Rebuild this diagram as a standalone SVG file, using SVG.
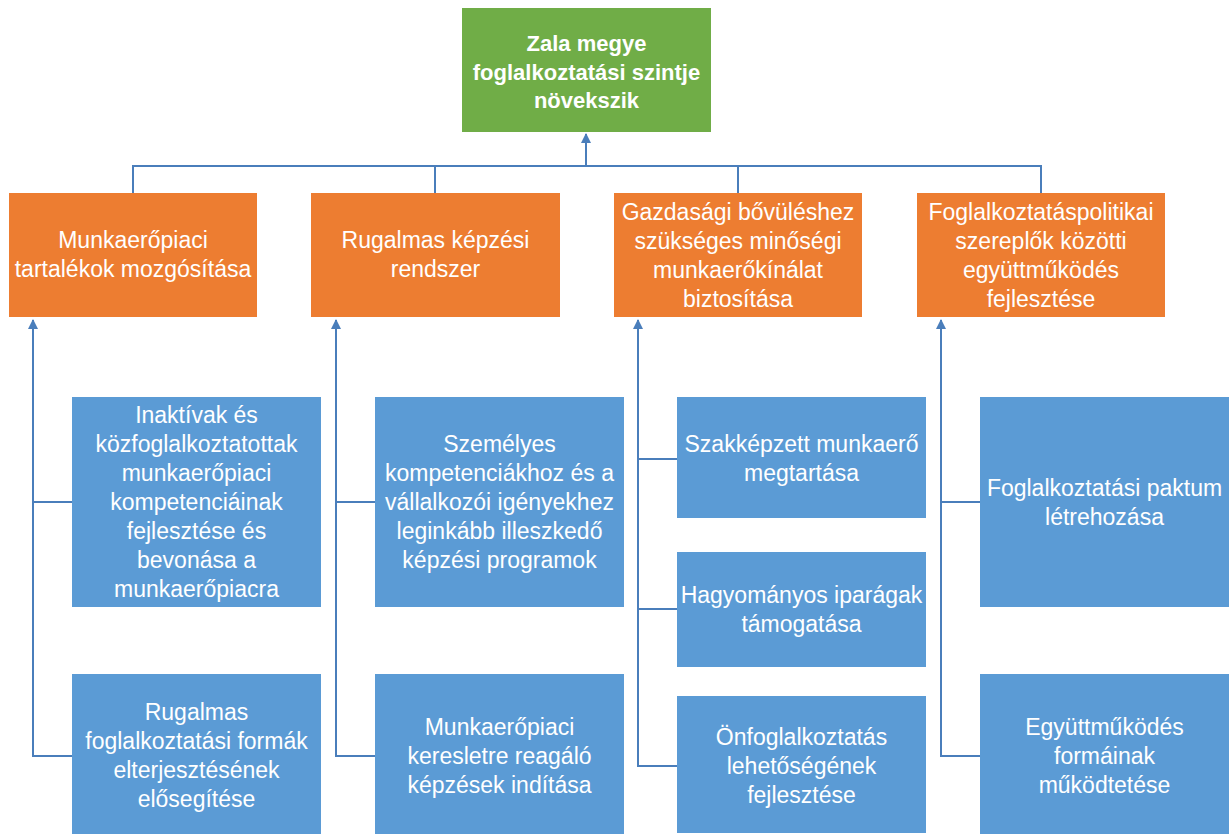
<svg xmlns="http://www.w3.org/2000/svg" width="1230" height="834" viewBox="0 0 1230 834">
<style>
.g{fill:#70AD47}
.o{fill:#ED7D31}
.b{fill:#5B9BD5}
text{font-family:"Liberation Sans",Arial,sans-serif;fill:#ffffff;text-anchor:middle;font-size:23px}
.t{font-weight:bold;font-size:22px}
.c{fill:none;stroke:#4A7EBB;stroke-width:2}
</style>
<defs>
<marker id="ah" viewBox="0 0 10 10" refX="9" refY="5" markerWidth="5" markerHeight="5" orient="auto" markerUnits="strokeWidth">
<path d="M0,0 L10,5 L0,10 z" fill="#4A7EBB"/>
</marker>
</defs>
<rect width="1230" height="834" fill="#ffffff"/>
<g id="connectors">
<path class="c" d="M133,193 V166 H1041 V193 M435,166 V193 M738,166 V193"/>
<path class="c" d="M586,166 V134" marker-end="url(#ah)"/>
<path class="c" d="M72,502 H33 M72,756 H33 V320" marker-end="url(#ah)"/>
<path class="c" d="M375,502 H336 M375,756 H336 V320" marker-end="url(#ah)"/>
<path class="c" d="M677,459 H638 M677,609 H638 M677,766 H638 V320" marker-end="url(#ah)"/>
<path class="c" d="M980,502 H941 M980,756 H941 V320" marker-end="url(#ah)"/>
</g>
<g id="n0"><rect class="g" x="462" y="8" width="249" height="124"/>
<text class="t" x="586.5" y="51">Zala megye</text>
<text class="t" x="586.5" y="80">foglalkoztatási szintje</text>
<text class="t" x="586.5" y="108">növekszik</text></g>
<g id="n1"><rect class="o" x="9" y="193" width="248" height="124"/>
<text x="133" y="248">Munkaerőpiaci</text>
<text x="133" y="277">tartalékok mozgósítása</text></g>
<g id="n2"><rect class="o" x="311" y="193" width="249" height="124"/>
<text x="435.5" y="248">Rugalmas képzési</text>
<text x="435.5" y="277">rendszer</text></g>
<g id="n3"><rect class="o" x="614" y="193" width="248" height="124"/>
<text x="738" y="219.5">Gazdasági bővüléshez</text>
<text x="738" y="248.5">szükséges minőségi</text>
<text x="738" y="277.5">munkaerőkínálat</text>
<text x="738" y="306.5">biztosítása</text></g>
<g id="n4"><rect class="o" x="917" y="193" width="248" height="124"/>
<text x="1041" y="219.5">Foglalkoztatáspolitikai</text>
<text x="1041" y="248.5">szereplők közötti</text>
<text x="1041" y="277.5">együttműködés</text>
<text x="1041" y="306.5">fejlesztése</text></g>
<g id="n5"><rect class="b" x="72" y="397" width="249" height="210"/>
<text x="196.5" y="423">Inaktívak és</text>
<text x="196.5" y="452">közfoglalkoztatottak</text>
<text x="196.5" y="481">munkaerőpiaci</text>
<text x="196.5" y="510">kompetenciáinak</text>
<text x="196.5" y="539">fejlesztése és</text>
<text x="196.5" y="568">bevonása a</text>
<text x="196.5" y="597">munkaerőpiacra</text></g>
<g id="n6"><rect class="b" x="72" y="674" width="249" height="160"/>
<text x="196.5" y="720">Rugalmas</text>
<text x="196.5" y="749">foglalkoztatási formák</text>
<text x="196.5" y="778">elterjesztésének</text>
<text x="196.5" y="807">elősegítése</text></g>
<g id="n7"><rect class="b" x="375" y="397" width="249" height="210"/>
<text x="499.5" y="452">Személyes</text>
<text x="499.5" y="481">kompetenciákhoz és a</text>
<text x="499.5" y="510">vállalkozói igényekhez</text>
<text x="499.5" y="539">leginkább illeszkedő</text>
<text x="499.5" y="568">képzési programok</text></g>
<g id="n8"><rect class="b" x="375" y="674" width="249" height="160"/>
<text x="499.5" y="735">Munkaerőpiaci</text>
<text x="499.5" y="764">keresletre reagáló</text>
<text x="499.5" y="793">képzések indítása</text></g>
<g id="n9"><rect class="b" x="677" y="397" width="249" height="121"/>
<text x="801.5" y="452">Szakképzett munkaerő</text>
<text x="801.5" y="481">megtartása</text></g>
<g id="n10"><rect class="b" x="677" y="552" width="249" height="115"/>
<text x="801.5" y="603">Hagyományos iparágak</text>
<text x="801.5" y="632">támogatása</text></g>
<g id="n11"><rect class="b" x="677" y="696" width="249" height="137"/>
<text x="801.5" y="745">Önfoglalkoztatás</text>
<text x="801.5" y="774">lehetőségének</text>
<text x="801.5" y="803">fejlesztése</text></g>
<g id="n12"><rect class="b" x="980" y="397" width="249" height="210"/>
<text x="1104.5" y="496">Foglalkoztatási paktum</text>
<text x="1104.5" y="525">létrehozása</text></g>
<g id="n13"><rect class="b" x="980" y="674" width="249" height="160"/>
<text x="1104.5" y="735">Együttműködés</text>
<text x="1104.5" y="764">formáinak</text>
<text x="1104.5" y="793">működtetése</text></g>
</svg>
